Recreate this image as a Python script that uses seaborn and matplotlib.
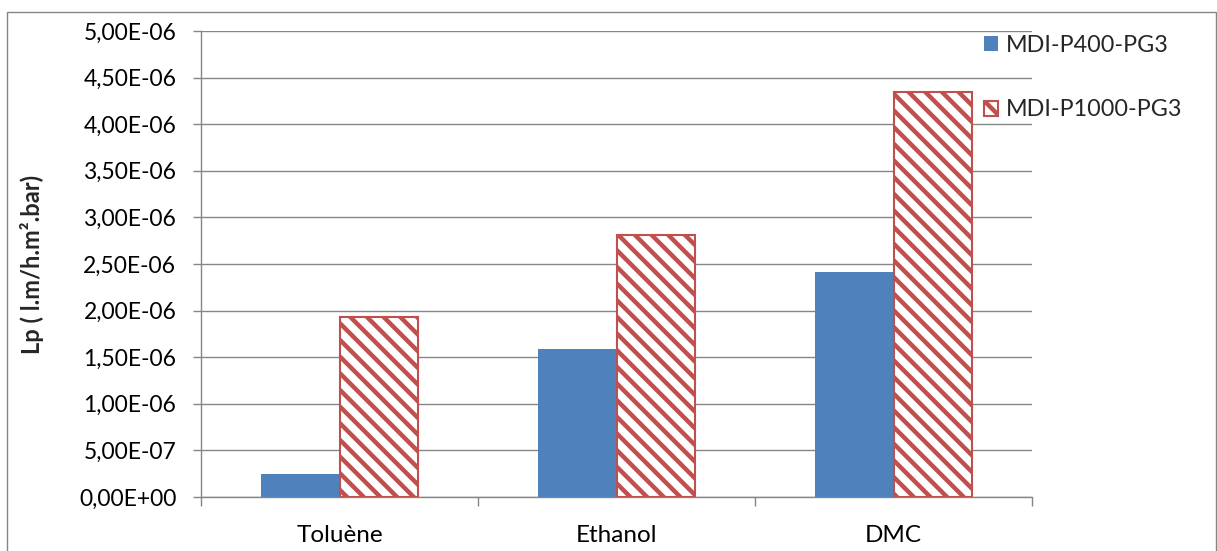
import matplotlib
matplotlib.use("Agg")
import matplotlib.pyplot as plt
import seaborn as sns
import pandas as pd
from matplotlib.patches import Rectangle
from matplotlib.ticker import FuncFormatter, FixedLocator

solvents = ["Toluène", "Ethanol", "DMC"]
series_names = ["MDI-P400-PG3", "MDI-P1000-PG3"]
p400_values = [2.45e-7, 1.59e-6, 2.41e-6]
p1000_values = [1.93e-6, 2.81e-6, 4.35e-6]
y_label = "Lp ( l.m/h.m².bar)"

df = pd.DataFrame({
    "solvent": solvents * 2,
    "series": [series_names[0]] * 3 + [series_names[1]] * 3,
    "value": p400_values + p1000_values,
})

sns.set_theme(style="white")
plt.rcParams["font.family"] = ["Lato", "DejaVu Sans"]
plt.rcParams["hatch.linewidth"] = 3.2

blue = "#4F81BD"
red = "#C0504D"
grid_gray = "#868686"

fig = plt.figure(figsize=(12.17, 5.51), dpi=100)
ax = fig.add_axes([201 / 1217, 1 - 497 / 551, 831 / 1217, (497 - 31) / 551])

sns.barplot(data=df, x="solvent", y="value", hue="series", order=solvents,
            hue_order=series_names, palette={series_names[0]: blue, series_names[1]: "white"},
            saturation=1, width=0.565, gap=0, legend=False, ax=ax, errorbar=None, zorder=3)

for p in ax.containers[0]:
    p.set_edgecolor("none")
    p.set_linewidth(0)
for p in ax.containers[1]:
    p.set_facecolor("white")
    p.set_edgecolor(red)
    p.set_hatch("\\\\")
    p.set_linewidth(1.5)

ax.set_ylim(0, 5e-6)
ax.set_xlim(-0.5, 2.5)
ax.yaxis.set_major_locator(FixedLocator([i * 5e-7 for i in range(11)]))
ax.yaxis.set_major_formatter(FuncFormatter(
    lambda v, pos: ("%.2E" % v).replace(".", ",")))
ax.grid(axis="y", color=grid_gray, linewidth=1.0, zorder=0)
ax.set_axisbelow(True)

for s in ["top", "right"]:
    ax.spines[s].set_visible(False)
for s in ["left", "bottom"]:
    ax.spines[s].set_color(grid_gray)
    ax.spines[s].set_linewidth(1.0)

ax.tick_params(axis="y", which="major", direction="out", length=5.8, width=1.0,
               color=grid_gray, pad=12, labelsize=16.5, labelcolor="black", left=True)
ax.set_xticks(range(len(solvents)))
ax.set_xticklabels(solvents)
ax.set_xticks([-0.5, 0.5, 1.5, 2.5], minor=True)
ax.tick_params(axis="x", which="major", length=0, pad=20, labelsize=17.5, labelcolor="black")
ax.tick_params(axis="x", which="minor", direction="out", length=6.5, width=1.0,
               color=grid_gray, bottom=True)
ax.set_xlabel("")
ax.set_ylabel(y_label, fontsize=17, fontweight="bold")
ax.yaxis.set_label_coords(-157 / 831, 0.5)

ax.legend(handles=ax.containers, labels=series_names, loc="upper left",
          bbox_to_anchor=(984 / 1217, 1 - 35 / 551), bbox_transform=fig.transFigure,
          frameon=False, fontsize=16.8, borderpad=0, borderaxespad=0,
          handlelength=0.62, handleheight=0.62, handletextpad=0.3, labelspacing=1.86)

fig.patches.append(Rectangle((7 / 1217, -0.05), 1209 / 1217, 1.05 - 12 / 551,
                             transform=fig.transFigure, fill=False,
                             edgecolor=grid_gray, linewidth=1.0))

fig.savefig("out.png", dpi=100)
